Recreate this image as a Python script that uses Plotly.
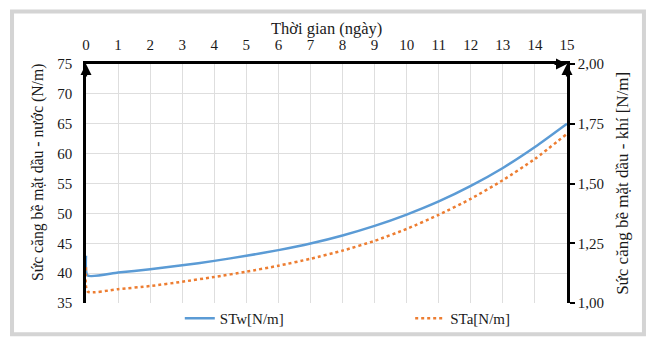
import plotly.graph_objects as go

# Time axis (days); the second sample is taken just after the start
days = [0, 0.05, 1, 2, 3, 4, 5, 6, 7, 8, 9, 10, 11, 12, 13, 14, 15]

# Oil-water surface tension (N/m), left axis
stw = [42.9, 39.6, 40.1, 40.65, 41.3, 42.05, 42.9, 43.85, 44.95, 46.3, 47.9,
       49.8, 52.0, 54.6, 57.6, 61.1, 65.0]

# Oil-air surface tension (N/m), right axis
sta = [1.150, 1.048, 1.058, 1.071, 1.089, 1.109, 1.131, 1.156, 1.185, 1.219,
       1.260, 1.310, 1.369, 1.436, 1.514, 1.603, 1.708]

x_ticks = list(range(0, 16))
left_ticks = [35, 40, 45, 50, 55, 60, 65, 70, 75]
right_ticks = [1.00, 1.25, 1.50, 1.75, 2.00]

FONT = "Liberation Serif, Times New Roman, DejaVu Serif, serif"
TEXT = "#1a1a1a"
BLUE = "#5B9BD5"
ORANGE = "#ED7D31"
GRID = "#dedede"

fig = go.Figure()

fig.add_trace(go.Scatter(
    x=days, y=stw, name="STw[N/m]", mode="lines",
    line=dict(color=BLUE, width=2.5, shape="spline", smoothing=0.6),
    legend="legend",
))
fig.add_trace(go.Scatter(
    x=days, y=sta, name="STa[N/m]", mode="lines", yaxis="y2",
    line=dict(color=ORANGE, width=2.5, dash="dot", shape="spline", smoothing=0.6),
    legend="legend2",
))

fig.update_layout(
    width=649, height=347,
    margin=dict(l=86, r=82, t=64, b=35),
    paper_bgcolor="white", plot_bgcolor="white",
    separators=",.",
    font=dict(family=FONT, size=15, color=TEXT),
    xaxis=dict(
        range=[0, 15], side="top", tickvals=x_ticks,
        showgrid=True, gridcolor=GRID, gridwidth=1, zeroline=False,
        showline=True, linecolor="black", linewidth=2.5,
        ticks="outside", ticklen=5, tickcolor="rgba(0,0,0,0)",
        tickfont=dict(family=FONT, size=15, color=TEXT),
    ),
    yaxis=dict(
        range=[35, 75], tickvals=left_ticks,
        showgrid=True, gridcolor=GRID, gridwidth=1, zeroline=False,
        showline=True, linecolor="black", linewidth=2.5,
        ticks="outside", ticklen=8, tickcolor="rgba(0,0,0,0)",
        tickfont=dict(family=FONT, size=15, color=TEXT),
    ),
    yaxis2=dict(
        range=[1, 2], tickvals=right_ticks, tickformat=".2f",
        overlaying="y", side="right",
        showgrid=False, zeroline=False,
        showline=True, linecolor="black", linewidth=2.5,
        ticks="outside", ticklen=5, tickwidth=2, tickcolor="black",
        tickfont=dict(family=FONT, size=15, color=TEXT),
    ),
    legend=dict(
        x=0.195, y=-0.065, xanchor="left", yanchor="middle",
        orientation="h", bgcolor="rgba(0,0,0,0)",
        font=dict(family=FONT, size=15, color=TEXT),
    ),
    legend2=dict(
        x=0.674, y=-0.065, xanchor="left", yanchor="middle",
        orientation="h", bgcolor="rgba(0,0,0,0)",
        font=dict(family=FONT, size=15, color=TEXT),
    ),
    showlegend=True,
)

# Light frame around the whole chart
fig.add_shape(
    type="rect", xref="paper", yref="paper",
    x0=-0.1538, x1=1.160, y0=-0.131, y1=1.2198,
    line=dict(color="#d4d4d4", width=4), fillcolor="rgba(0,0,0,0)",
    layer="below",
)

# Axis titles
fig.add_annotation(
    text="Thời gian (ngày)", xref="paper", yref="paper",
    x=0.5, y=1.149, showarrow=False, xanchor="center", yanchor="middle",
    font=dict(family=FONT, size=16.5, color=TEXT),
)
fig.add_annotation(
    text="Sức căng bề mặt dầu - nước (N/m)", xref="paper", yref="paper",
    x=-0.0998, y=0.548, showarrow=False, textangle=-90,
    xanchor="center", yanchor="middle",
    font=dict(family=FONT, size=15.7, color=TEXT),
)
fig.add_annotation(
    text="Sức căng bề mặt dầu - khí [N/m]", xref="paper", yref="paper",
    x=1.114, y=0.502, showarrow=False, textangle=-90,
    xanchor="center", yanchor="middle",
    font=dict(family=FONT, size=17, color=TEXT),
)

# Arrowheads at the ends of the axis lines
arrow = dict(showarrow=True, arrowhead=2, arrowsize=1, arrowwidth=2.2,
             arrowcolor="black", text="", axref="pixel", ayref="pixel")
fig.add_annotation(x=15, y=75, xref="x", yref="y", ax=-14, ay=0, **arrow)
fig.add_annotation(x=0, y=75, xref="x", yref="y", ax=0, ay=14, **arrow)
fig.add_annotation(x=15, y=2, xref="x", yref="y2", ax=0, ay=14, **arrow)

fig.write_html("out.html")
